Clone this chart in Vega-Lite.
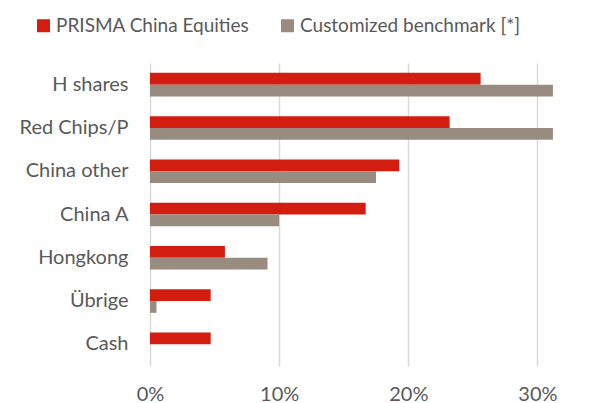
{
  "$schema": "https://vega.github.io/schema/vega-lite/v6.json",
  "autosize": {"type": "none"},
  "padding": {"left": 150, "top": 63, "right": 12, "bottom": 37},
  "width": 452,
  "height": 303,
  "background": "white",
  "config": {
    "view": {"stroke": null},
    "font": "Lato",
    "axis": {"labelColor": "#595959", "labelFont": "Lato", "labelFontSize": 20},
    "legend": {"labelColor": "#595959", "labelFont": "Lato", "labelFontSize": 19}
  },
  "data": {
    "values": [
      {"region": "H shares", "series": "PRISMA China Equities", "value": 0.256},
      {"region": "H shares", "series": "Customized benchmark [*]", "value": 0.312},
      {"region": "Red Chips/P", "series": "PRISMA China Equities", "value": 0.232},
      {"region": "Red Chips/P", "series": "Customized benchmark [*]", "value": 0.312},
      {"region": "China other", "series": "PRISMA China Equities", "value": 0.193},
      {"region": "China other", "series": "Customized benchmark [*]", "value": 0.175},
      {"region": "China A", "series": "PRISMA China Equities", "value": 0.167},
      {"region": "China A", "series": "Customized benchmark [*]", "value": 0.1},
      {"region": "Hongkong", "series": "PRISMA China Equities", "value": 0.058},
      {"region": "Hongkong", "series": "Customized benchmark [*]", "value": 0.091},
      {"region": "Übrige", "series": "PRISMA China Equities", "value": 0.047},
      {"region": "Übrige", "series": "Customized benchmark [*]", "value": 0.005},
      {"region": "Cash", "series": "PRISMA China Equities", "value": 0.047},
      {"region": "Cash", "series": "Customized benchmark [*]", "value": 0}
    ]
  },
  "mark": {"type": "bar"},
  "encoding": {
    "y": {
      "field": "region",
      "type": "nominal",
      "sort": ["H shares", "Red Chips/P", "China other", "China A", "Hongkong", "Übrige", "Cash"],
      "scale": {"paddingInner": 0.456, "paddingOuter": 0.228},
      "axis": {"title": null, "domain": false, "ticks": false, "labelPadding": 22}
    },
    "yOffset": {
      "field": "series",
      "type": "nominal",
      "sort": ["PRISMA China Equities", "Customized benchmark [*]"]
    },
    "x": {
      "field": "value",
      "type": "quantitative",
      "scale": {"domain": [0, 0.35], "nice": false},
      "axis": {
        "title": null,
        "format": ".0%",
        "values": [0, 0.1, 0.2, 0.3],
        "domain": false,
        "ticks": false,
        "grid": true,
        "gridColor": "#D9D9D9",
        "gridWidth": 1.5,
        "labelFlush": false,
        "labelPadding": 18
      }
    },
    "color": {
      "field": "series",
      "type": "nominal",
      "scale": {
        "domain": ["PRISMA China Equities", "Customized benchmark [*]"],
        "range": ["#D31D10", "#988C81"]
      },
      "legend": {
        "title": null,
        "orient": "none",
        "direction": "horizontal",
        "legendX": -116,
        "legendY": -47,
        "symbolType": "square",
        "symbolSize": 169,
        "symbolStrokeWidth": 0,
        "labelOffset": 3,
        "columnPadding": 28,
        "labelLimit": 400
      }
    }
  }
}
